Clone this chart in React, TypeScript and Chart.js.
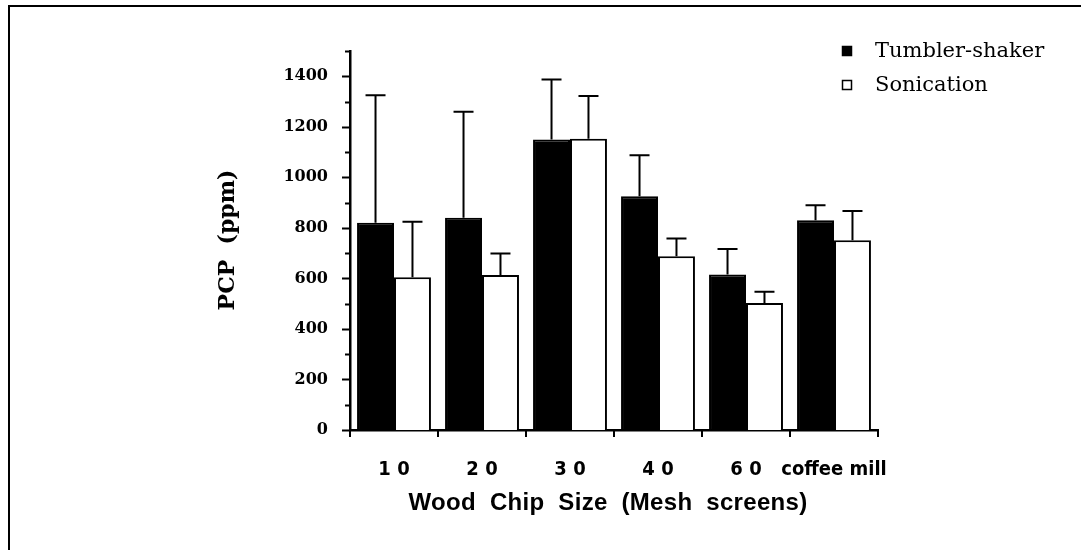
import React, { useEffect, useRef } from 'react';
import { Chart, registerables } from 'chart.js';

Chart.register(...registerables);

// ---- data ----
const categories = ['1 0', '2 0', '3 0', '4 0', '6 0', 'coffee mill'];
const seriesNames = ['Tumbler-shaker', 'Sonication'];
const tumblerShaker = [820, 840, 1150, 925, 615, 830];
const tumblerShakerSD = [505, 420, 237, 162, 101, 60];
const sonication = [605, 613, 1153, 688, 503, 751];
const sonicationSD = [219, 86, 169, 70, 44, 116];
const yMajorTicks = [0, 200, 400, 600, 800, 1000, 1200, 1400];
const yMinorTicks = [100, 300, 500, 700, 900, 1100, 1300, 1500];
const yMax = 1500;
const yTitle = 'PCP  (ppm)';
const xTitle = 'Wood  Chip  Size  (Mesh  screens)';

const errors = [tumblerShakerSD, sonicationSD];

const decorPlugin = {
  id: 'decor',
  beforeDraw(chart: any) {
    const ctx = chart.ctx;
    ctx.save();
    ctx.fillStyle = '#ffffff';
    ctx.fillRect(0, 0, chart.width, chart.height);
    // page frame (top + left)
    ctx.strokeStyle = '#000';
    ctx.lineWidth = 2;
    ctx.beginPath();
    ctx.moveTo(9, 550);
    ctx.lineTo(9, 6);
    ctx.lineTo(1081, 6);
    ctx.stroke();
    ctx.restore();
  },
  afterDatasetsDraw(chart: any) {
    const ctx = chart.ctx;
    const y = chart.scales.y;
    const x = chart.scales.x;
    ctx.save();
    ctx.strokeStyle = '#000';
    ctx.lineWidth = 2;
    chart.data.datasets.forEach((ds: any, i: number) => {
      const meta = chart.getDatasetMeta(i);
      meta.data.forEach((bar: any, j: number) => {
        const top = y.getPixelForValue(ds.data[j] + errors[i][j]);
        ctx.beginPath();
        ctx.moveTo(bar.x, bar.y);
        ctx.lineTo(bar.x, top);
        ctx.moveTo(bar.x - 10, top);
        ctx.lineTo(bar.x + 10, top);
        ctx.stroke();
      });
    });
    // y ticks (major + minor)
    const ax = chart.chartArea.left;
    ctx.lineWidth = 2;
    yMajorTicks.forEach((v) => {
      const py = Math.round(y.getPixelForValue(v)) + 0.5;
      ctx.beginPath();
      ctx.moveTo(ax - 8, py);
      ctx.lineTo(ax, py);
      ctx.stroke();
    });
    yMinorTicks.forEach((v) => {
      const py = Math.round(y.getPixelForValue(v)) + 0.5;
      ctx.beginPath();
      ctx.moveTo(ax - 5, py);
      ctx.lineTo(ax, py);
      ctx.stroke();
    });
    // x boundary ticks
    const bottom = chart.chartArea.bottom;
    const step = x.getPixelForValue(1) - x.getPixelForValue(0);
    for (let k = 0; k <= categories.length; k++) {
      const px = x.getPixelForValue(0) - step / 2 + k * step;
      ctx.beginPath();
      ctx.moveTo(px, bottom);
      ctx.lineTo(px, bottom + 7);
      ctx.stroke();
    }
    ctx.restore();
  },
  afterDraw(chart: any) {
    const ctx = chart.ctx;
    ctx.save();
    ctx.fillStyle = '#000';
    // y title
    ctx.font = 'bold 22px "DejaVu Serif", serif';
    ctx.textAlign = 'center';
    ctx.textBaseline = 'middle';
    ctx.translate(228, 240);
    ctx.rotate(-Math.PI / 2);
    ctx.fillText(yTitle, 0, 0);
    ctx.restore();

    ctx.save();
    ctx.fillStyle = '#000';
    ctx.font = 'bold 24px "Liberation Sans", Arial, sans-serif';
    (ctx as any).letterSpacing = '0.3px';
    ctx.textAlign = 'center';
    ctx.textBaseline = 'middle';
    ctx.fillText(xTitle, 608, 503);
    (ctx as any).letterSpacing = '0px';

    // legend
    ctx.font = '21px "DejaVu Serif", serif';
    ctx.textAlign = 'left';
    chart.data.datasets.forEach((ds: any, i: number) => {
      const cy = 51 + i * 34;
      ctx.fillStyle = ds.backgroundColor;
      ctx.fillRect(842, cy - 5, 10, 10);
      ctx.strokeStyle = '#000';
      ctx.lineWidth = 1.5;
      ctx.strokeRect(842.5, cy - 4.5, 9, 9);
      ctx.fillStyle = '#000';
      ctx.fillText(ds.label, 875, cy + 1);
    });
    ctx.restore();
  },
};

export default function App() {
  const ref = useRef<HTMLCanvasElement>(null);
  useEffect(() => {
    if (!ref.current) return;
    const chart = new Chart(ref.current, {
      type: 'bar',
      data: {
        labels: categories,
        datasets: [
          {
            label: seriesNames[0],
            data: tumblerShaker,
            backgroundColor: '#000000',
            borderColor: '#000000',
            borderWidth: 2,
          },
          {
            label: seriesNames[1],
            data: sonication,
            backgroundColor: '#ffffff',
            borderColor: '#000000',
            borderWidth: 2,
          },
        ],
      },
      options: {
        responsive: false,
        animation: false,
        devicePixelRatio: 1,
        layout: { padding: { left: 0, right: 203, top: 51, bottom: 0 } },
        datasets: { bar: { categoryPercentage: 0.84, barPercentage: 1 } },
        plugins: { legend: { display: false }, tooltip: { enabled: false } },
        scales: {
          x: {
            offset: true,
            afterFit: (s: any) => { s.height = 120; },
            grid: { display: false, drawOnChartArea: false, drawTicks: false },
            border: { display: true, color: '#000', width: 2.5 },
            ticks: {
              color: '#000',
              padding: 28,
              maxRotation: 0,
              autoSkip: false,
              font: { family: '"Liberation Sans Narrow", "DejaVu Sans Condensed", "Roboto Condensed", sans-serif', weight: 'bold', size: 20 },
            },
          },
          y: {
            min: 0,
            max: yMax,
            afterFit: (s: any) => { s.width = 350; },
            afterBuildTicks: (s: any) => { s.ticks = yMajorTicks.map((v) => ({ value: v })); },
            grid: { display: false, drawOnChartArea: false, drawTicks: false },
            border: { display: true, color: '#000', width: 2.5 },
            ticks: {
              color: '#000',
              padding: 22,
              callback: (v: any) => String(v),
              font: { family: '"DejaVu Serif", serif', weight: 'bold', size: 16 },
            },
          },
        },
      },
      plugins: [decorPlugin],
    } as any);
    return () => chart.destroy();
  }, []);
  return (
    <div style={{ position: 'fixed', left: 0, top: 0, width: 1081, height: 550, background: '#fff' }}>
      <canvas ref={ref} width={1081} height={550} />
    </div>
  );
}
